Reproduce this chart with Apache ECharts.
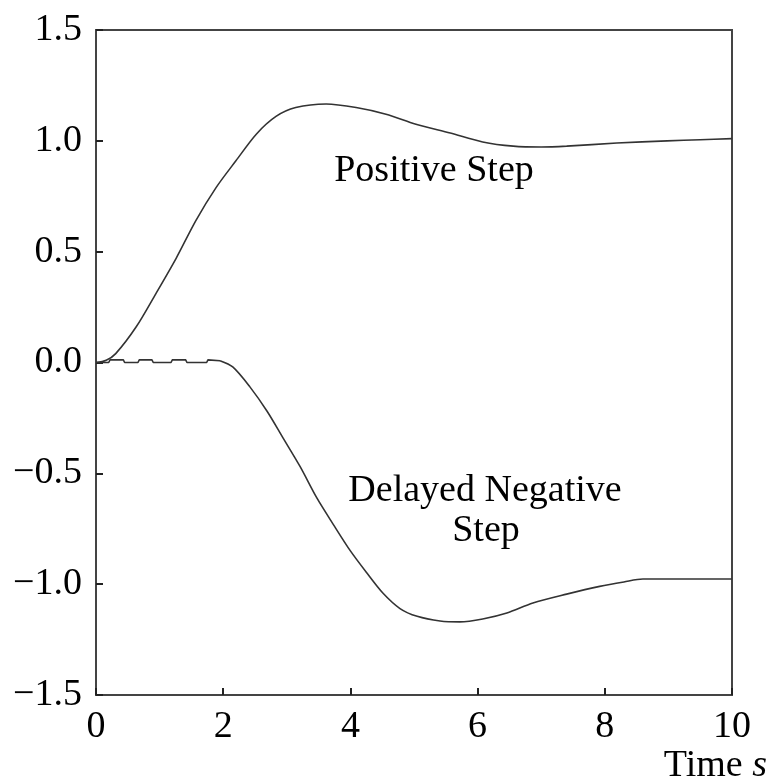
<!DOCTYPE html>
<html>
<head>
<meta charset="utf-8">
<script src="https://cdn.jsdelivr.net/npm/echarts@6/dist/echarts.min.js"></script>
<style>
html,body{margin:0;padding:0;background:#fff;}
#chart{width:769px;height:782px;}
</style>
</head>
<body>
<div id="chart"></div>
<script>
// ---- data ----
const xTicks = [0, 2, 4, 6, 8, 10];
const yTicks = [-1.5, -1.0, -0.5, 0.0, 0.5, 1.0, 1.5];

const posT = [0, 0.16, 0.31, 0.63, 0.94, 1.26, 1.57, 1.89, 2.20, 2.52, 2.83, 3.14, 3.62, 4.09, 4.56, 5.03, 5.57, 6.08, 6.56, 7.0, 7.4, 8.19, 8.98, 9.5, 10];
const posV = [0, 0.01, 0.04, 0.16, 0.31, 0.47, 0.64, 0.79, 0.91, 1.03, 1.11, 1.15, 1.166, 1.15, 1.12, 1.075, 1.035, 0.995, 0.976, 0.972, 0.976, 0.99, 1.0, 1.005, 1.01];

const rippleT = [0, 0.2, 0.22, 0.43, 0.45, 0.66, 0.68, 0.88, 0.9, 1.18, 1.2, 1.41, 1.43, 1.74, 1.76, 1.95];
const rippleV = [0, 0, 0.012, 0.012, 0, 0, 0.012, 0.012, 0, 0, 0.012, 0.012, 0, 0, 0.012, 0.008];

const negT = [1.95, 2.15, 2.42, 2.69, 2.94, 3.21, 3.47, 3.73, 4.0, 4.26, 4.51, 4.78, 5.05, 5.41, 5.72, 6.08, 6.46, 6.87, 7.4, 7.92, 8.3, 8.6, 9.3, 10];
const negV = [0.008, -0.02, -0.11, -0.22, -0.34, -0.47, -0.61, -0.73, -0.85, -0.95, -1.04, -1.11, -1.145, -1.166, -1.17, -1.157, -1.13, -1.085, -1.045, -1.01, -0.99, -0.977, -0.977, -0.977];

const labelPositive = 'Positive Step';
const labelNegative = ['Delayed Negative', 'Step'];
const xName = 'Time';
const xUnit = 's';

// ---- chart ----
const zip = (a, b) => a.map((v, i) => [v, b[i]]);
const FONT = '"Liberation Serif", "Times New Roman", serif';
const LINE = '#333';

const chart = echarts.init(document.getElementById('chart'), null, {renderer: 'canvas'});
chart.setOption({
  animation: false,
  backgroundColor: '#fff',
  grid: {left: 96, right: 37, top: 30, bottom: 87, show: true, borderColor: '#444', borderWidth: 2, backgroundColor: 'transparent'},
  xAxis: {
    type: 'value', min: xTicks[0], max: xTicks[xTicks.length - 1], interval: 2,
    axisLine: {show: true, onZero: false, lineStyle: {color: '#444', width: 2}},
    axisTick: {show: true, inside: true, length: 7, lineStyle: {color: '#222', width: 2}},
    splitLine: {show: false},
    axisLabel: {color: '#000', fontFamily: FONT, fontSize: 38, margin: 13, formatter: v => String(v)}
  },
  yAxis: {
    type: 'value', min: yTicks[0], max: yTicks[yTicks.length - 1], interval: 0.5,
    axisLine: {show: true, onZero: false, lineStyle: {color: '#444', width: 2}},
    axisTick: {show: true, inside: true, length: 7, lineStyle: {color: '#222', width: 2}},
    splitLine: {show: false},
    axisLabel: {color: '#000', fontFamily: FONT, fontSize: 38, margin: 14,
      formatter: v => (v < 0 ? '\u2212' : '') + Math.abs(v).toFixed(1)}
  },
  series: [
    {name: labelPositive, type: 'line', data: zip(posT, posV), smooth: 0.3, showSymbol: false,
     lineStyle: {color: LINE, width: 1.6}},
    {name: 'ripple', type: 'line', data: zip(rippleT, rippleV), smooth: false, showSymbol: false,
     lineStyle: {color: LINE, width: 1.6}},
    {name: labelNegative.join(' '), type: 'line', data: zip(negT, negV), smooth: 0.3, showSymbol: false,
     lineStyle: {color: LINE, width: 1.6}}
  ],
  graphic: [
    {type: 'text', x: 434, y: 171, style: {text: labelPositive, font: '38px ' + FONT, fill: '#000', textAlign: 'center', textVerticalAlign: 'middle'}},
    {type: 'text', x: 485, y: 491, style: {text: labelNegative[0], font: '38px ' + FONT, fill: '#000', textAlign: 'center', textVerticalAlign: 'middle'}},
    {type: 'text', x: 486, y: 531, style: {text: labelNegative[1], font: '38px ' + FONT, fill: '#000', textAlign: 'center', textVerticalAlign: 'middle'}},
    {type: 'text', x: 767, y: 766, style: {
      text: '{a|' + xName + ' }{b|' + xUnit + '}', textAlign: 'right', textVerticalAlign: 'middle',
      rich: {a: {font: '38px ' + FONT, fill: '#000'}, b: {font: 'italic 38px ' + FONT, fill: '#000'}}
    }}
  ]
});
</script>
</body>
</html>
